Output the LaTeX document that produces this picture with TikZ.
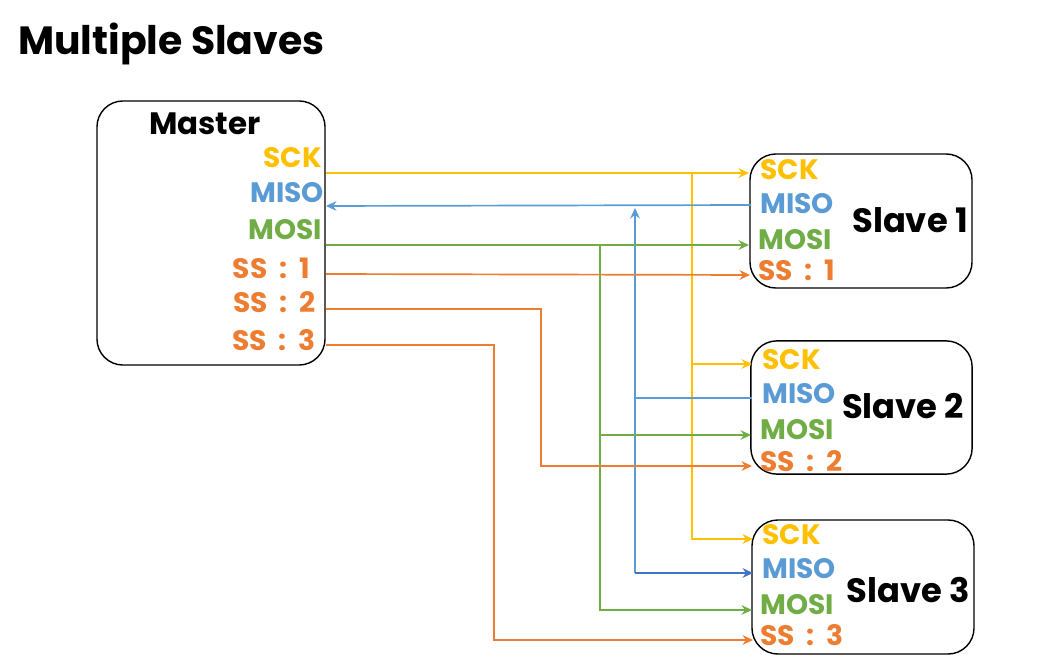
\documentclass[tikz,border=0pt]{standalone}
\usepackage{fontspec}
\setmainfont{Poppins}
\usetikzlibrary{arrows.meta,positioning}

\definecolor{sckcol}{HTML}{FFC000}
\definecolor{misocol}{HTML}{5B9BD5}
\definecolor{misodark}{HTML}{4472C4}
\definecolor{mosicol}{HTML}{70AD47}
\definecolor{sscol}{HTML}{ED7D31}

\newcommand{\sslabel}[1]{SS\ \ :\ \ #1}

\begin{document}
\begin{tikzpicture}[x=0.025cm, y=-0.025cm, >={Stealth[length=2.6mm,width=2.4mm]},
  box/.style={draw, rounded corners=0.65cm, line width=1pt, inner sep=0pt},
  pin/.style={font=\fontsize{20}{20}\selectfont\bfseries, inner sep=0pt},
  boxname/.style={font=\fontsize{24}{24}\selectfont\bfseries, inner sep=0pt},
  wire/.style={line width=1.2pt}]
\useasboundingbox (0,0) rectangle (1060,669);

% Title
\node[anchor=west, inner sep=0pt, font=\fontsize{28}{28}\selectfont\bfseries] (title) at (18,44) {Multiple Slaves};

% Master
\node[box, minimum width=5.7cm, minimum height=6.6cm] (master) at (211,233) {};
\node[boxname, font=\fontsize{22}{22}\selectfont\bfseries] (mname) at (205,124) {Master};
\node[pin, text=sckcol, anchor=east] (m-sck) at (322,158) {SCK};
\node[pin, text=misocol, anchor=east] (m-miso) at (324,193) {MISO};
\node[pin, text=mosicol, anchor=east] (m-mosi) at (322,230) {MOSI};
\node[pin, text=sscol, anchor=east] (m-ss1) at (310,268) {\sslabel{1}};
\node[pin, text=sscol, anchor=east] (m-ss2) at (316,302) {\sslabel{2}};
\node[pin, text=sscol, anchor=east] (m-ss3) at (316,340) {\sslabel{3}};

% Slaves
\node[box, minimum width=5.55cm, minimum height=3.35cm] (slave1) at (861,221) {};
\node[boxname] (s1name) at (910,220) {Slave 1};
\node[pin, text=sckcol, anchor=west] (s1-sck) at (760,170) {SCK};
\node[pin, text=misocol, anchor=west] (s1-miso) at (760,204) {MISO};
\node[pin, text=mosicol, anchor=west] (s1-mosi) at (758,240) {MOSI};
\node[pin, text=sscol, anchor=west] (s1-ss) at (758,270) {\sslabel{1}};

\node[box, minimum width=5.53cm, minimum height=3.33cm] (slave2) at (861.5,407.5) {};
\node[boxname] (s2name) at (903,406) {Slave 2};
\node[pin, text=sckcol, anchor=west] (s2-sck) at (762,360) {SCK};
\node[pin, text=misocol, anchor=west] (s2-miso) at (762,394) {MISO};
\node[pin, text=mosicol, anchor=west] (s2-mosi) at (760,430) {MOSI};
\node[pin, text=sscol, anchor=west] (s2-ss) at (760,461) {\sslabel{2}};

\node[box, minimum width=5.55cm, minimum height=3.35cm] (slave3) at (863,587) {};
\node[boxname] (s3name) at (908,590) {Slave 3};
\node[pin, text=sckcol, anchor=west] (s3-sck) at (762,535) {SCK};
\node[pin, text=misocol, anchor=west] (s3-miso) at (762,569) {MISO};
\node[pin, text=mosicol, anchor=west] (s3-mosi) at (760,605) {MOSI};
\node[pin, text=sscol, anchor=west] (s3-ss) at (760,635) {\sslabel{3}};

% Pin points on the box edges
\coordinate (m-sck-p) at (326,173);
\coordinate (m-miso-p) at (326,206);
\coordinate (m-mosi-p) at (326,245);
\coordinate (m-ss1-p) at (326,274);
\coordinate (m-ss2-p) at (326,309);
\coordinate (m-ss3-p) at (326,345);
\coordinate (s1-sck-p) at (749,173);
\coordinate (s1-miso-p) at (751,205);
\coordinate (s1-mosi-p) at (749,245);
\coordinate (s1-ss-p) at (750,275);
\coordinate (s2-sck-p) at (752,364);
\coordinate (s2-miso-p) at (752,398);
\coordinate (s2-mosi-p) at (751,435);
\coordinate (s2-ss-p) at (752,466);
\coordinate (s3-sck-p) at (753,539);
\coordinate (s3-miso-p) at (753,573);
\coordinate (s3-mosi-p) at (752,610);
\coordinate (s3-ss-p) at (753,640);

% Bus lines
\coordinate (sck-bus) at (692,173);
\coordinate (miso-top) at (635,208);
\coordinate (miso-bot) at (635,573);
\coordinate (mosi-bus) at (600,245);
\coordinate (ss2-bend) at (541,309);
\coordinate (ss3-bend) at (494,345);

% SCK
\draw[wire, sckcol, ->] (m-sck-p) -- (s1-sck-p);
\draw[wire, sckcol, ->] (sck-bus) |- (s2-sck-p);
\draw[wire, sckcol, ->] (sck-bus) |- (s3-sck-p);

% MISO
\draw[wire, misocol, ->] (s1-miso-p) -- (m-miso-p);
\draw[wire, misocol] (s2-miso-p) -- (s2-miso-p -| miso-top);
\draw[wire, misocol, ->] (miso-bot) -- (miso-top);
\draw[wire, misodark, ->] (miso-bot) -- (s3-miso-p);

% MOSI
\draw[wire, mosicol, ->] (m-mosi-p) -- (s1-mosi-p);
\draw[wire, mosicol, ->] (mosi-bus) |- (s2-mosi-p);
\draw[wire, mosicol, ->] (mosi-bus) |- (s3-mosi-p);

% Slave select
\draw[wire, sscol, ->] (m-ss1-p) -- (s1-ss-p);
\draw[wire, sscol, ->] (m-ss2-p) -- (ss2-bend) |- (s2-ss-p);
\draw[wire, sscol, ->] (m-ss3-p) -- (ss3-bend) |- (s3-ss-p);

\end{tikzpicture}
\end{document}
